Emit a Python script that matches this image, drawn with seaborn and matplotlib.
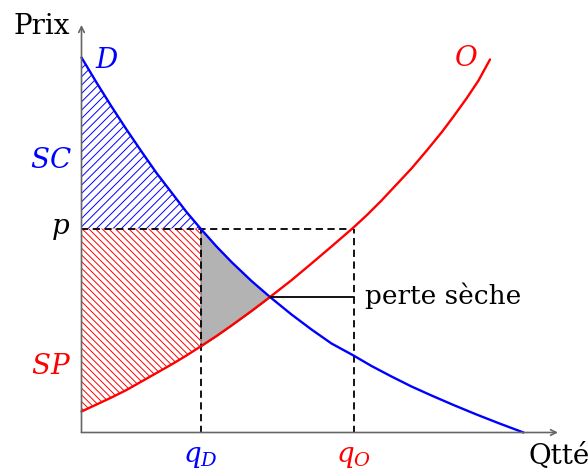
import matplotlib
matplotlib.use("Agg")
import matplotlib.pyplot as plt
import pandas as pd
import seaborn as sns

sns.set_style("white")
plt.rcParams["mathtext.fontset"] = "dejavuserif"
plt.rcParams["font.family"] = ["DejaVu Serif"]
plt.rcParams["hatch.linewidth"] = 0.7

# curves (in pixel-like units from the origin)
q_dem = [0, 15, 30, 45, 60, 75, 90, 105, 119, 135, 150, 170, 188.5, 210,
         230, 250, 272, 290, 310, 330, 350, 372, 395, 418, 442]
p_dem = [375, 350, 326, 303, 281, 259.5, 240, 220.5, 204, 186, 170.5, 151.5,
         135.5, 118, 103, 89, 77, 66.5, 56, 46, 37, 27.5, 18, 9, 0]
q_sup = [0, 15, 30, 45, 60, 75, 90, 105, 119, 135, 150, 170, 188.5, 210,
         230, 250, 272, 286, 300, 315, 330, 345, 360, 372, 385, 397, 408.5]
p_sup = [21, 28, 35, 42.5, 51, 59.5, 68, 77, 86, 96.5, 107, 121.5, 135.5,
         152.3, 169, 186, 205, 218, 232, 248, 264, 281.7, 300, 316, 334, 352, 373]

price = 204
q_D = 119
q_O = 272
q_eq = 188.5
p_eq = 135.5

dem = pd.DataFrame({"q": q_dem, "p": p_dem})
sup = pd.DataFrame({"q": q_sup, "p": p_sup})

fig = plt.figure(figsize=(5.88, 4.72), dpi=100)
ax = fig.add_axes([0, 0, 1, 1])
ax.set_xlim(-81.5, 506.5)
ax.set_ylim(-39.5, 432.5)
ax.axis("off")

# surplus areas
d_left = dem[dem["q"] <= q_D]
s_left = sup[sup["q"] <= q_D]
ax.fill_between(d_left["q"], price, d_left["p"], facecolor="none",
                edgecolor="blue", hatch="////", linewidth=0)
ax.fill_between(s_left["q"], s_left["p"], price, facecolor="none",
                edgecolor="red", hatch="\\\\\\\\\\", linewidth=0)

# dead weight loss
d_mid = dem[(dem["q"] >= q_D) & (dem["q"] <= q_eq)]
s_mid = sup[(sup["q"] >= q_D) & (sup["q"] <= q_eq)]
ax.fill_between(d_mid["q"].values, s_mid["p"].values, d_mid["p"].values,
                facecolor="#b3b3b3", edgecolor="#444444", linewidth=0.5)

# dashed guides
dash = (0, (4, 2.5))
ax.plot([0, q_O], [price, price], color="black", lw=1.3, linestyle=dash)
ax.plot([q_D, q_D], [0, price], color="black", lw=1.3, linestyle=dash)
ax.plot([q_O, q_O], [0, price], color="black", lw=1.3, linestyle=dash)

# curves
sns.lineplot(data=dem, x="q", y="p", sort=False, estimator=None,
             color="blue", lw=1.7, ax=ax)
sns.lineplot(data=sup, x="q", y="p", sort=False, estimator=None,
             color="red", lw=1.7, ax=ax)

# perte seche pointer
ax.plot([q_eq, q_O], [p_eq, p_eq], color="black", lw=1.3)
ax.text(283.5, p_eq + 1, "perte sèche", fontsize=19, color="black",
        ha="left", va="center")

# axes with arrows
arr = dict(arrowstyle="->", color="#666666", lw=1.2, shrinkA=0, shrinkB=0)
ax.annotate("", xy=(476.5, 0), xytext=(0, 0), arrowprops=arr)
ax.annotate("", xy=(0, 407.5), xytext=(0, 0), arrowprops=arr)

ax.text(-40, 406, "Prix", fontsize=20, color="black", ha="center", va="center")
ax.text(446.5, -24, "Qtté", fontsize=20, color="black", ha="left", va="center")

ax.text(25.5, 372.5, "$D$", color="blue", fontsize=20, ha="center", va="center")
ax.text(384.5, 374, "$O$", color="red", fontsize=20, ha="center", va="center")
ax.text(-30.5, 272, "$SC$", color="blue", fontsize=20, ha="center", va="center")
ax.text(-30.5, 66.5, "$SP$", color="red", fontsize=20, ha="center", va="center")
ax.text(-20.5, 204, "$p$", color="black", fontsize=20, ha="center", va="center")
ax.text(q_D, -23.5, "$q_D$", color="blue", fontsize=20, ha="center", va="center")
ax.text(q_O, -23.5, "$q_O$", color="red", fontsize=20, ha="center", va="center")

fig.savefig("out.png", dpi=100)
